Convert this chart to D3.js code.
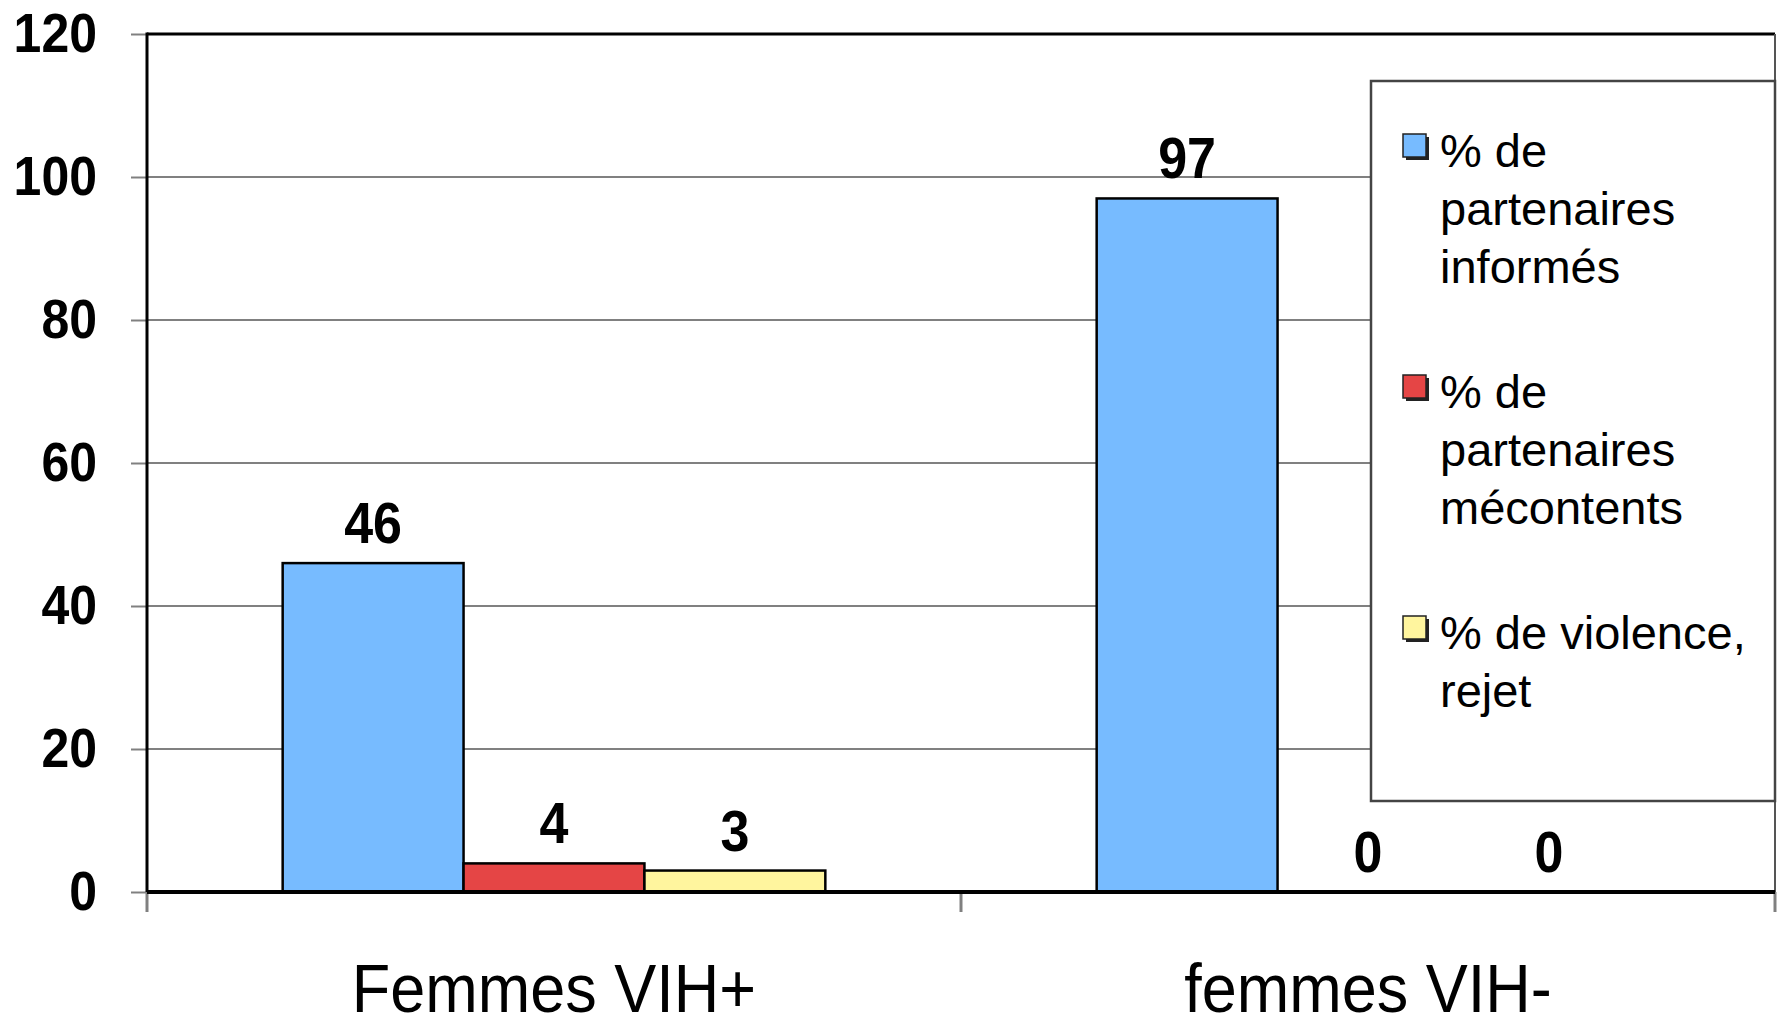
<!DOCTYPE html>
<html>
<head>
<meta charset="utf-8">
<script src="https://cdn.jsdelivr.net/npm/d3@7"></script>
<style>
  body { margin: 0; background: #fff; }
  text { font-family: "Liberation Sans", Arial, sans-serif; }
</style>
</head>
<body>
<script>
// data
var categories = ["Femmes VIH+", "femmes VIH-"];
var seriesNames = ["% de partenaires informés", "% de partenaires mécontents", "% de violence, rejet"];
var legendLines = [["% de", "partenaires", "informés"], ["% de", "partenaires", "mécontents"], ["% de violence,", "rejet"]];
var informes = [46, 97];
var mecontents = [4, 0];
var violence = [3, 0];
var yTicks = [0, 20, 40, 60, 80, 100, 120];
var colors = ["#77bbff", "#e54545", "#fff59e"];

var W = 1782, H = 1023;
var plotLeft = 147, plotRight = 1775, plotTop = 34, plotBottom = 892;

var svg = d3.select("body").append("svg")
    .attr("width", W)
    .attr("height", H);

var x0 = d3.scaleBand().domain(categories).range([plotLeft, plotRight]).paddingInner(0).paddingOuter(0);
var x1 = d3.scaleBand().domain(d3.range(3)).range([0, x0.bandwidth()]).paddingInner(0).paddingOuter(0.75);
var y = d3.scaleLinear().domain([0, 120]).range([plotBottom, plotTop]);

var series = [informes, mecontents, violence];

// gridlines
svg.append("g")
    .selectAll("line")
    .data(yTicks.filter(function(d){ return d > 0 && d < 120; }))
    .join("line")
    .attr("x1", plotLeft).attr("x2", plotRight)
    .attr("y1", function(d){ return y(d); })
    .attr("y2", function(d){ return y(d); })
    .attr("stroke", "#808080")
    .attr("stroke-width", 2);

// frame top + right
svg.append("line").attr("x1", plotLeft).attr("x2", plotRight).attr("y1", plotTop).attr("y2", plotTop)
    .attr("stroke", "#000").attr("stroke-width", 3);
svg.append("line").attr("x1", plotRight).attr("x2", plotRight).attr("y1", plotTop).attr("y2", plotBottom)
    .attr("stroke", "#555").attr("stroke-width", 2);

// y axis
var yAxis = d3.axisLeft(y).tickValues(yTicks).tickSize(16).tickFormat("");
var gy = svg.append("g").attr("transform", "translate(" + plotLeft + ",0)").call(yAxis);
gy.select(".domain").remove();
gy.selectAll(".tick line").attr("stroke", "#808080").attr("stroke-width", 2);

svg.append("g").selectAll("text")
    .data(yTicks)
    .join("text")
    .attr("transform", function(d){ return "translate(97," + (y(d) + 18) + ") scale(1,1.12)"; })
    .attr("text-anchor", "end")
    .style("font-size", "50px")
    .style("font-weight", "bold")
    .text(function(d){ return d; });

// x ticks at category boundaries
var bounds = categories.map(function(c){ return x0(c); }).concat([plotRight]);
svg.append("g").selectAll("line")
    .data(bounds)
    .join("line")
    .attr("x1", function(d){ return d; }).attr("x2", function(d){ return d; })
    .attr("y1", plotBottom).attr("y2", plotBottom + 20)
    .attr("stroke", "#808080").attr("stroke-width", 3);

// bars
var groups = svg.append("g").selectAll("g")
    .data(categories)
    .join("g")
    .attr("transform", function(d){ return "translate(" + x0(d) + ",0)"; });

groups.selectAll("rect")
    .data(function(c, i){ return series.map(function(s, k){ return {k: k, v: s[i]}; }); })
    .join("rect")
    .attr("x", function(d){ return x1(d.k); })
    .attr("width", x1.bandwidth())
    .attr("y", function(d){ return y(d.v); })
    .attr("height", function(d){ return y(0) - y(d.v); })
    .attr("fill", function(d){ return colors[d.k]; })
    .attr("stroke", function(d){ return d.v > 0 ? "#000" : "none"; })
    .attr("stroke-width", 2.5);

groups.selectAll("text")
    .data(function(c, i){ return series.map(function(s, k){ return {k: k, v: s[i]}; }); })
    .join("text")
    .attr("transform", function(d){ return "translate(" + (x1(d.k) + x1.bandwidth() / 2) + "," + (y(d.v) - 20) + ") scale(1,1.1)"; })
    .attr("text-anchor", "middle")
    .style("font-size", "52px")
    .style("font-weight", "bold")
    .text(function(d){ return d.v; });

// left and bottom axis lines
svg.append("line").attr("x1", plotLeft).attr("x2", plotLeft).attr("y1", plotTop - 1.5).attr("y2", plotBottom)
    .attr("stroke", "#000").attr("stroke-width", 3);
svg.append("line").attr("x1", plotLeft).attr("x2", plotRight).attr("y1", plotBottom).attr("y2", plotBottom)
    .attr("stroke", "#000").attr("stroke-width", 4);

// category labels
svg.append("g").selectAll("text")
    .data(categories)
    .join("text")
    .attr("transform", function(d){ return "translate(" + (x0(d) + x0.bandwidth() / 2) + ",1012) scale(1,1.1)"; })
    .attr("text-anchor", "middle")
    .style("font-size", "63px")
    .text(function(d){ return d; });

// legend
var lg = svg.append("g").attr("class", "legend");
lg.append("rect")
    .attr("x", 1371).attr("y", 81)
    .attr("width", plotRight - 1371).attr("height", 801 - 81)
    .attr("fill", "#fff")
    .attr("stroke", "#444")
    .attr("stroke-width", 2.5);

var items = lg.selectAll("g.item")
    .data(seriesNames)
    .join("g")
    .attr("class", "item")
    .attr("transform", function(d, i){ return "translate(1403," + (167 + i * 241) + ")"; });

items.append("rect")
    .attr("x", 3).attr("y", -30).attr("width", 23).attr("height", 23)
    .attr("fill", "#222");
items.append("rect")
    .attr("x", 0).attr("y", -33).attr("width", 23).attr("height", 23)
    .attr("fill", function(d, i){ return colors[i]; })
    .attr("stroke", "#222").attr("stroke-width", 1.5);

items.append("text")
    .attr("x", 37)
    .style("font-size", "47px")
    .selectAll("tspan")
    .data(function(d, i){ return legendLines[i]; })
    .join("tspan")
    .attr("x", 37)
    .attr("dy", function(d, j){ return j === 0 ? 0 : 58; })
    .text(function(d){ return d; });
</script>
</body>
</html>
